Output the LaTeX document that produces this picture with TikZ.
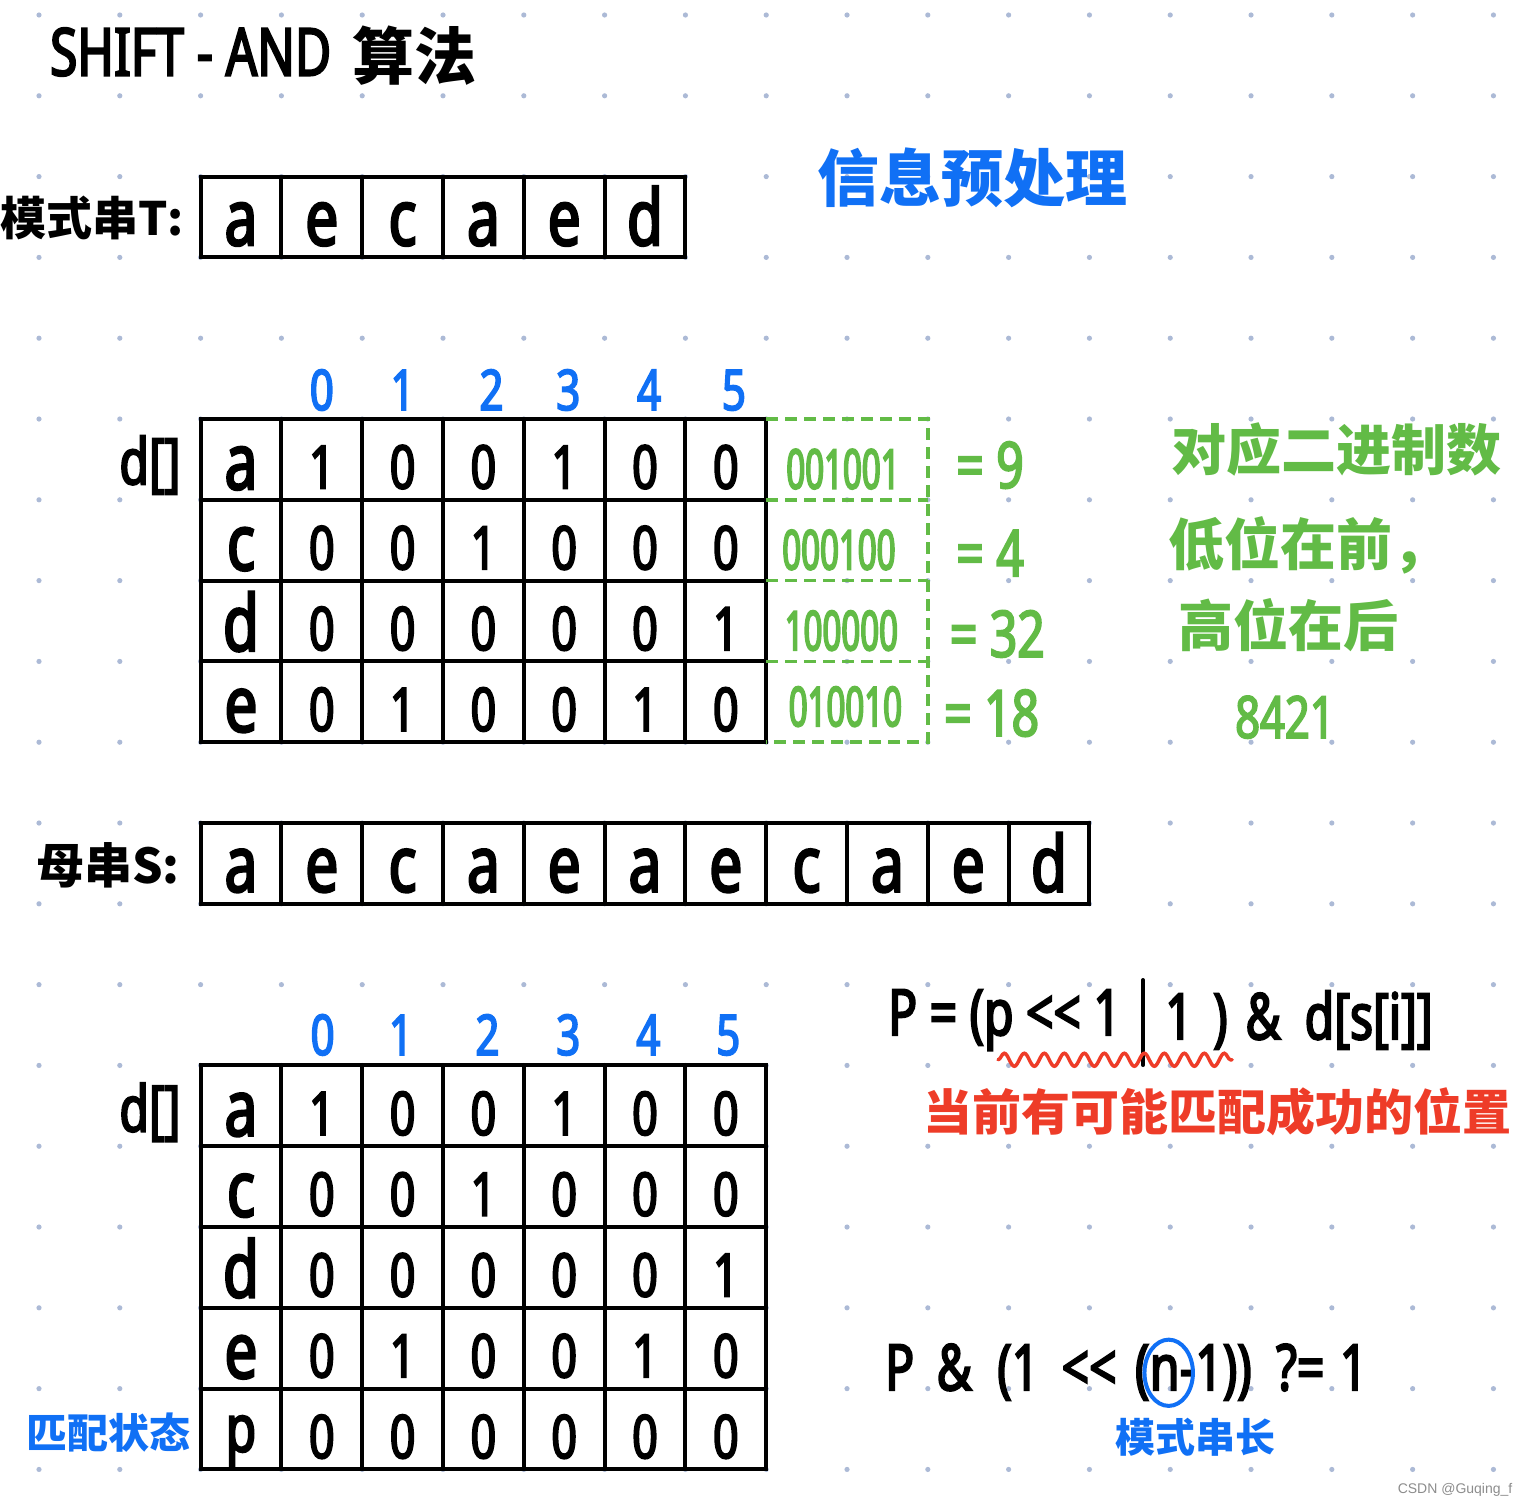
\documentclass[tikz,border=0pt]{standalone}
\usepackage{fontspec}
\usetikzlibrary{decorations.pathmorphing}
\newfontfamily\cjk{Noto Sans CJK SC}
\newfontfamily\hand[FakeStretch=0.75,FakeBold=3]{Noto Sans}
\newfontfamily\handn[FakeStretch=0.6,FakeBold=3]{Noto Sans}
\newfontfamily\wmfont{Liberation Sans}
\definecolor{dotc}{RGB}{172,186,214}
\definecolor{hblue}{RGB}{16,112,245}
\definecolor{hgreen}{RGB}{98,187,70}
\definecolor{hred}{RGB}{238,60,40}
\newcommand{\bitrow}[8]{%
  \foreach \b [count=\c from 0] in {#3,#4,#5,#6,#7,#8}{%
    \node[cellD] (#2-\c) at ({3.5+\c},#1) {\b};}}
\begin{document}
\begin{tikzpicture}[x=80.8pt,y=-80.8pt,
  tbl/.style={line width=4pt,line cap=rect},
  gdash/.style={draw=hgreen,line width=3.5pt,dash pattern=on 12pt off 7pt},
  cellL/.style={anchor=base,inner sep=0pt,font={\hand\fontsize{78}{80}\selectfont}},
  cellD/.style={anchor=base,inner sep=0pt,font={\hand\fontsize{60}{62}\selectfont}},
  idx/.style={anchor=base,inner sep=0pt,text=hblue,font={\hand\fontsize{56}{58}\selectfont}},
  gbits/.style={inner sep=0pt,text=hgreen,font={\handn\fontsize{55}{57}\selectfont}},
  geq/.style={inner sep=0pt,text=hgreen,font={\hand\fontsize{64}{66}\selectfont}},
  cjkt/.style={inner sep=0pt,font={\cjk\bfseries\fontsize{#1}{#1}\selectfont}},
  hw/.style={inner sep=0pt,font={\hand\fontsize{#1}{#1}\selectfont}}]
\useasboundingbox (-0.4827,-0.1856) rectangle (18.366,18.465);
% dot grid
\foreach \i in {0,...,18}{\foreach \j in {0,...,18}{\fill[dotc] (\i,\j) circle[radius=2.6pt];}}
% title
\node[hw=66,anchor=west] (title) at (0.136,0.458) {SHIFT - AND};
\node[cjkt=62,anchor=west] (titlecn) at (3.88,0.50) {算法};
% pattern T
\node[cjkt=46] (labT) at (0.656,2.512) {模式串T:};
\draw[tbl] (2,2) rectangle (8,3);
\foreach \x in {3,...,7} \draw[tbl] (\x,2) -- (\x,3);
\foreach \l [count=\k from 0] in {a,e,c,a,e,d}
  \node[cellL] (T-\k) at ({2.5+\k},2.85) {\l};
\node[cjkt=62,text=hblue] (pre) at (11.547,2.017) {信息预处理};
% indices 1
\foreach \v/\xx in {0/3.5,1/4.5,2/5.6,3/6.55,4/7.55,5/8.6}
  \node[idx] (ia-\v) at (\xx,4.889) {\v};
\node[hw=64] (dA) at (1.374,5.57) {d[]};
% table 1
\foreach \y in {5,...,9} \draw[tbl] (2,\y) -- (9,\y);
\foreach \x in {2,...,9} \draw[tbl] (\x,5) -- (\x,9);
\node[cellL] (A1) at (2.5,5.87) {a}; \bitrow{5.86}{A1b}{1}{0}{0}{1}{0}{0}
\node[cellL] (C1) at (2.5,6.87) {c}; \bitrow{6.86}{C1b}{0}{0}{1}{0}{0}{0}
\node[cellL] (D1) at (2.5,7.87) {d}; \bitrow{7.86}{D1b}{0}{0}{0}{0}{0}{1}
\node[cellL] (E1) at (2.5,8.87) {e}; \bitrow{8.86}{E1b}{0}{1}{0}{0}{1}{0}
% green dashed box
\draw[gdash] (9,5) -- (11,5) -- (11,9) -- (9,9);
\foreach \y in {6,7,8} \draw[gdash] (9,\y) -- (11,\y);
\node[gbits] (g1) at (9.95,5.62) {001001};
\node[gbits] (g2) at (9.9,6.62) {000100};
\node[gbits] (g3) at (9.93,7.62) {100000};
\node[gbits] (g4) at (9.98,8.56) {010010};
\node[geq] (e1) at (11.77,5.57) {= 9};
\node[geq] (e2) at (11.77,6.66) {= 4};
\node[geq] (e3) at (11.86,7.66) {= 32};
\node[geq] (e4) at (11.79,8.64) {= 18};
\node[cjkt=55,text=hgreen] (r1) at (16.06,5.38) {对应二进制数};
\node[cjkt=56,text=hgreen,anchor=west] (r2) at (13.973,6.56) {低位在前，};
\node[cjkt=55,text=hgreen] (r3) at (15.46,7.55) {高位在后};
\node[hw=58,text=hgreen] (r4) at (15.42,8.69) {8421};
% S string
\node[cjkt=48] (labS) at (0.854,10.52) {母串S:};
\draw[tbl] (2,10) rectangle (13,11);
\foreach \x in {3,...,12} \draw[tbl] (\x,10) -- (\x,11);
\foreach \l [count=\k from 0] in {a,e,c,a,e,a,e,c,a,e,d}
  \node[cellL] (S-\k) at ({2.5+\k},10.85) {\l};
% formula 1
\node[hw=64,anchor=west] (f1a) at (10.507,12.438) {P = (p <\kern0pt< 1};
\coordinate (bt) at (13.663,11.943);
\coordinate (bb) at (13.663,12.995);
\draw[line width=4pt,line cap=round] (bt) -- (bb);
\node[hw=64,anchor=west] (f1b) at (13.936,12.438) {1\hspace{8pt} )\hspace{18pt}\&\hspace{24pt}d[s[i]]};
\coordinate (w1) at (11.869,12.93);
\coordinate (w2) at (14.765,12.93);
\draw[hred,line width=3.5pt,line cap=round,decorate,decoration={snake,segment length=20pt,amplitude=6.5pt}] (w1) -- (w2);
\node[cjkt=49,text=hred] (red) at (14.579,13.577) {当前有可能匹配成功的位置};
% indices 2
\foreach \v/\xx in {0/3.51,1/4.48,2/5.55,3/6.55,4/7.54,5/8.53}
  \node[idx] (ib-\v) at (\xx,12.87) {\v};
\node[hw=64] (dB) at (1.374,13.58) {d[]};
% table 2
\foreach \y in {13,...,18} \draw[tbl] (2,\y) -- (9,\y);
\foreach \x in {2,...,9} \draw[tbl] (\x,13) -- (\x,18);
\node[cellL] (A2) at (2.5,13.87) {a}; \bitrow{13.86}{A2b}{1}{0}{0}{1}{0}{0}
\node[cellL] (C2) at (2.5,14.87) {c}; \bitrow{14.86}{C2b}{0}{0}{1}{0}{0}{0}
\node[cellL] (D2) at (2.5,15.87) {d}; \bitrow{15.86}{D2b}{0}{0}{0}{0}{0}{1}
\node[cellL] (E2) at (2.5,16.87) {e}; \bitrow{16.86}{E2b}{0}{1}{0}{0}{1}{0}
\node[anchor=base,inner sep=0pt,font={\hand\fontsize{66}{66}\selectfont}] (P2) at (2.5,17.78) {p}; \bitrow{17.86}{P2b}{0}{0}{0}{0}{0}{0}
\node[cjkt=41,text=hblue] (state) at (0.854,17.54) {匹配状态};
% formula 2
\node[hw=64,anchor=base west] (f2a) at (10.47,17.02) {P\hspace{10pt} \&\hspace{13pt} (1\hspace{10pt} <\kern0pt<\hspace{6pt} (};
\node[hw=64,anchor=base west] (f2n) at (f2a.base east) {n};
\node[hw=64,anchor=base west] (f2b) at (f2n.base east) {-1))\hspace{12pt} ?=\hspace{3pt} 1};
\draw[hblue,line width=4pt] ([xshift=4pt]f2n.center) ellipse [x radius=0.3,y radius=0.41];
\node[cjkt=40,text=hblue] (plen) at (14.307,17.599) {模式串长};
% watermark
\node[inner sep=0pt,text=black!45,font={\wmfont\fontsize{14}{14}\selectfont}] (wm) at (17.525,18.255) {CSDN @Guqing\_f};
\end{tikzpicture}
\end{document}
